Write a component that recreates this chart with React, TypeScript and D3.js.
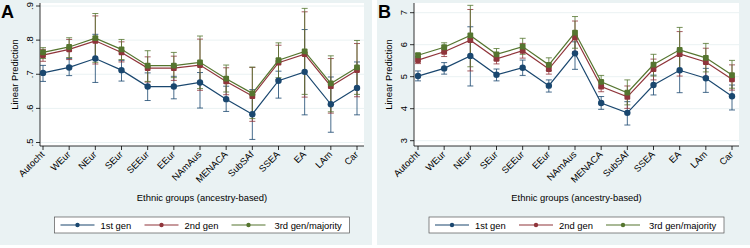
import React from 'react';
import * as d3 from 'd3';

// categories on the x axis (same for both panels)
const groups = ['Autocht', 'WEur', 'NEur', 'SEur', 'SEEur', 'EEur', 'NAmAus', 'MENACA', 'SubSAf', 'SSEA', 'EA', 'LAm', 'Car'];
const seriesNames = ['1st gen', '2nd gen', '3rd gen/majority'];

// Panel A
const aGen1 = [0.704, 0.720, 0.746, 0.712, 0.664, 0.664, 0.676, 0.627, 0.583, 0.681, 0.707, 0.612, 0.660];
const aGen1Lo = [0.679, 0.696, 0.676, 0.680, 0.623, 0.628, 0.601, 0.591, 0.509, 0.630, 0.581, 0.530, 0.581];
const aGen1Hi = [0.726, 0.746, 0.817, 0.740, 0.704, 0.694, 0.705, 0.665, 0.655, 0.709, 0.831, 0.692, 0.736];
const aGen2 = [0.756, 0.773, 0.798, 0.764, 0.718, 0.718, 0.727, 0.679, 0.636, 0.734, 0.759, 0.665, 0.712];
const aGen2Lo = [0.738, 0.743, 0.730, 0.736, 0.677, 0.682, 0.653, 0.640, 0.562, 0.684, 0.633, 0.586, 0.634];
const aGen2Hi = [0.773, 0.802, 0.871, 0.795, 0.751, 0.753, 0.803, 0.719, 0.720, 0.785, 0.883, 0.746, 0.790];
const aGen3 = [0.764, 0.780, 0.806, 0.773, 0.725, 0.725, 0.735, 0.687, 0.644, 0.741, 0.767, 0.673, 0.720];
const aGen3Lo = [0.746, 0.749, 0.735, 0.743, 0.679, 0.690, 0.658, 0.648, 0.570, 0.690, 0.641, 0.590, 0.641];
const aGen3Hi = [0.778, 0.807, 0.878, 0.802, 0.769, 0.764, 0.812, 0.727, 0.721, 0.792, 0.893, 0.754, 0.799];
const aTicks = [0.5, 0.6, 0.7, 0.8, 0.9];

// Panel B
const bGen1 = [5.02, 5.26, 5.65, 5.06, 5.28, 4.72, 5.73, 4.18, 3.87, 4.74, 5.20, 4.95, 4.39];
const bGen1Lo = [4.87, 5.08, 4.71, 4.87, 5.04, 4.52, 5.23, 3.98, 3.49, 4.43, 4.50, 4.51, 3.96];
const bGen1Hi = [5.18, 5.44, 6.56, 5.24, 5.52, 4.90, 6.09, 4.38, 4.22, 5.05, 5.83, 5.26, 4.74];
const bGen2 = [5.52, 5.78, 6.14, 5.56, 5.81, 5.24, 6.23, 4.69, 4.37, 5.24, 5.71, 5.46, 4.92];
const bGen2Lo = [5.41, 5.63, 5.18, 5.40, 5.58, 5.08, 5.78, 4.53, 4.01, 4.90, 5.02, 5.00, 4.58];
const bGen2Hi = [5.63, 5.92, 7.10, 5.73, 6.04, 5.40, 6.74, 4.87, 4.71, 5.55, 6.41, 5.89, 5.37];
const bGen3 = [5.67, 5.92, 6.29, 5.70, 5.94, 5.37, 6.38, 4.84, 4.50, 5.38, 5.84, 5.59, 5.05];
const bGen3Lo = [5.61, 5.78, 5.31, 5.52, 5.70, 5.19, 5.89, 4.67, 4.12, 5.02, 5.16, 5.15, 4.64];
const bGen3Hi = [5.73, 6.06, 7.23, 5.88, 6.20, 5.59, 6.88, 5.04, 4.90, 5.70, 6.54, 6.04, 5.51];
const bTicks = [3, 4, 5, 6, 7];

// stata s2color-ish
const colors = ['#1a476f', '#90353b', '#55752f'];
const BG = '#eaf2f3';
const FONT = 'Liberation Sans, Arial, sans-serif';
const FS = 9.4;

type Series = { mean: number[]; lo: number[]; hi: number[] };

type PanelProps = {
  letter: string;
  x0: number; // left of the outer region
  width: number;
  plotL: number;
  plotR: number;
  xFirst: number;
  xLast: number;
  yDomain: [number, number];
  yRange: [number, number];
  ticks: number[];
  fmt: (v: number) => string;
  series: Series[];
};

const PLOT_TOP = 3;
const PLOT_BOTTOM = 146;

const Marker = ({ i, x, y, s }: { i: number; x: number; y: number; s: number }) => {
  if (i === 0) return <circle cx={x} cy={y} r={s} fill={colors[0]} />;
  return <rect x={x - s} y={y - s} width={s * 2} height={s * 2} rx={1} fill={colors[i]} />;
};

const Panel = (p: PanelProps) => {
  const xScale = d3.scalePoint<string>().domain(groups).range([p.xFirst, p.xLast]);
  const yScale = d3.scaleLinear().domain(p.yDomain).range(p.yRange);
  const line = d3.line<number>()
    .x((d, i) => xScale(groups[i]) as number)
    .y(d => yScale(d));

  const plotW = p.plotR - p.plotL;
  const cx = p.plotL + plotW / 2;
  const legW = 295;
  const legX = cx - legW / 2;
  const legY = 217;
  // legend entry offsets [line start, text start]
  const legItems = [[6, 46], [90, 130], [177, 220]];

  return (
    <g>
      <rect x={p.x0} y={0} width={p.width} height={245} fill={BG} />
      <rect x={p.plotL} y={PLOT_TOP} width={plotW} height={PLOT_BOTTOM - PLOT_TOP} fill="#fff" />
      {/* grid */}
      {p.ticks.map(t => (
        <line key={'g' + t} x1={p.plotL} x2={p.plotR} y1={yScale(t)} y2={yScale(t)} stroke={BG} strokeWidth={1} />
      ))}
      {/* y axis */}
      <line x1={p.plotL} x2={p.plotL} y1={PLOT_TOP} y2={PLOT_BOTTOM} stroke="#000" strokeWidth={0.8} />
      {p.ticks.map(t => (
        <g key={'t' + t}>
          <line x1={p.plotL - 4} x2={p.plotL} y1={yScale(t)} y2={yScale(t)} stroke="#000" strokeWidth={0.8} />
          <text x={p.plotL - 7} y={yScale(t)} transform={`rotate(-90 ${p.plotL - 7} ${yScale(t)})`}
            textAnchor="middle" fontSize={FS} fontFamily={FONT} fill="#000">{p.fmt(t)}</text>
        </g>
      ))}
      <text x={p.plotL - 22} y={(PLOT_TOP + PLOT_BOTTOM) / 2}
        transform={`rotate(-90 ${p.plotL - 22} ${(PLOT_TOP + PLOT_BOTTOM) / 2})`}
        textAnchor="middle" fontSize={FS} fontFamily={FONT} fill="#000">Linear Prediction</text>
      {/* x axis */}
      <line x1={p.plotL} x2={p.plotR} y1={PLOT_BOTTOM} y2={PLOT_BOTTOM} stroke="#000" strokeWidth={0.8} />
      {groups.map(g => {
        const x = xScale(g) as number;
        return (
          <g key={'x' + g}>
            <line x1={x} x2={x} y1={PLOT_BOTTOM} y2={PLOT_BOTTOM + 4} stroke="#000" strokeWidth={0.8} />
            <text x={x + 2} y={PLOT_BOTTOM + 9} transform={`rotate(-45 ${x + 2} ${PLOT_BOTTOM + 9})`}
              textAnchor="end" fontSize={FS} fontFamily={FONT} fill="#000">{g}</text>
          </g>
        );
      })}
      <text x={cx} y={201} textAnchor="middle" fontSize={FS} fontFamily={FONT} fill="#000">Ethnic groups (ancestry-based)</text>

      {/* error bars */}
      {p.series.map((s, si) => (
        <g key={'ci' + si} stroke={colors[si]} strokeOpacity={0.8} strokeWidth={1}>
          {groups.map((g, i) => {
            const x = xScale(g) as number;
            return (
              <g key={g}>
                <line x1={x} x2={x} y1={yScale(s.lo[i])} y2={yScale(s.hi[i])} />
                <line x1={x - 3} x2={x + 3} y1={yScale(s.lo[i])} y2={yScale(s.lo[i])} />
                <line x1={x - 3} x2={x + 3} y1={yScale(s.hi[i])} y2={yScale(s.hi[i])} />
              </g>
            );
          })}
        </g>
      ))}
      {/* lines + markers */}
      {p.series.map((s, si) => (
        <g key={'ln' + si}>
          <path d={line(s.mean) || ''} fill="none" stroke={colors[si]} strokeWidth={1.2} />
          {s.mean.map((v, i) => (
            <Marker key={i} i={si} x={xScale(groups[i]) as number} y={yScale(v)} s={si === 0 ? 3.2 : 2.9} />
          ))}
        </g>
      ))}

      {/* legend */}
      <rect x={legX} y={legY} width={legW} height={16} fill="#fff" stroke="#555" strokeWidth={0.7} />
      {seriesNames.map((n, i) => {
        const lx = legX + legItems[i][0];
        return (
          <g key={n}>
            <line x1={lx} x2={lx + 34} y1={legY + 8} y2={legY + 8} stroke={colors[i]} strokeWidth={1.2} />
            <circle cx={lx + 17} cy={legY + 8} r={2.2} fill={colors[i]} />
            <text x={legX + legItems[i][1]} y={legY + 11.5} fontSize={FS} fontFamily={FONT} fill="#000">{n}</text>
          </g>
        );
      })}

      <text x={p.x0 + 1} y={18} fontSize={18} fontWeight="bold" fontFamily={FONT} fill="#000">{p.letter}</text>
    </g>
  );
};

export default function App() {
  const seriesA: Series[] = [
    { mean: aGen1, lo: aGen1Lo, hi: aGen1Hi },
    { mean: aGen2, lo: aGen2Lo, hi: aGen2Hi },
    { mean: aGen3, lo: aGen3Lo, hi: aGen3Hi },
  ];
  const seriesB: Series[] = [
    { mean: bGen1, lo: bGen1Lo, hi: bGen1Hi },
    { mean: bGen2, lo: bGen2Lo, hi: bGen2Hi },
    { mean: bGen3, lo: bGen3Lo, hi: bGen3Hi },
  ];
  const fmtA = (v: number) => d3.format('.1f')(v).replace(/^0/, '');
  const fmtB = (v: number) => String(v);

  return (
    <>
      <style>{'body{margin:0}'}</style>
      <svg width={750} height={248} style={{ display: 'block', background: '#fff' }}>
        <Panel letter="A" x0={0} width={372} plotL={40} plotR={364} xFirst={43} xLast={357}
          yDomain={[0.5, 0.9]} yRange={[142.5, 6]} ticks={aTicks} fmt={fmtA} series={seriesA} />
        <Panel letter="B" x0={377} width={373} plotL={414} plotR={739} xFirst={418} xLast={732}
          yDomain={[3, 7]} yRange={[140.7, 12.7]} ticks={bTicks} fmt={fmtB} series={seriesB} />
      </svg>
    </>
  );
}
